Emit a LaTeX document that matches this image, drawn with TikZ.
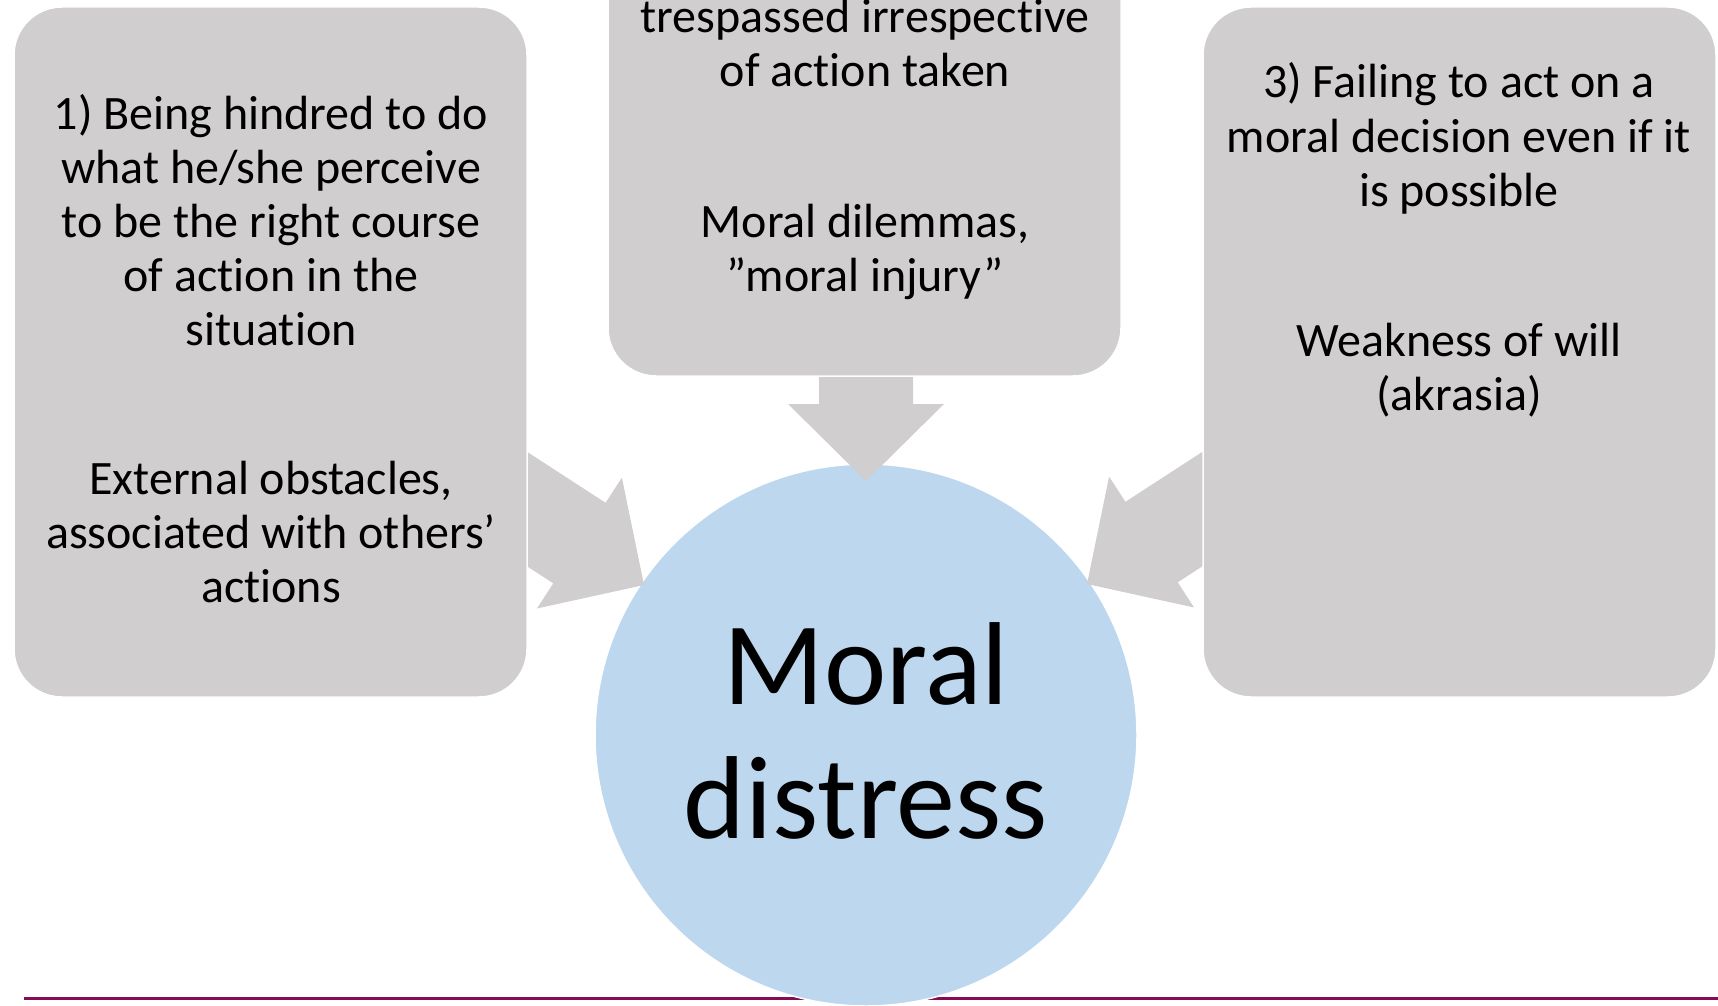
\documentclass[tikz,border=0pt]{standalone}
\usepackage{fontspec}
\setmainfont{Carlito}[Ligatures=NoCommon]
\definecolor{boxgray}{HTML}{D0CECE}
\definecolor{circblue}{HTML}{BDD7EE}
\definecolor{linepurple}{HTML}{870A55}
\begin{document}
\begin{tikzpicture}[x=1pt,y=-1pt,
  box/.style={draw=white, line width=1.5pt, fill=boxgray, rounded corners=48pt,
    minimum width=513pt, minimum height=690pt, inner sep=0pt},
  txt/.style={font=\fontsize{48}{54}\selectfont, anchor=base, inner sep=0pt},
  bigtxt/.style={font=\fontsize{118}{134}\selectfont, anchor=base, inner sep=0pt},
  arrowshape/.style={fill=boxgray}]
\useasboundingbox (0,0) rectangle (1718,1006);
\clip (0,0) rectangle (1718,1006);
% bottom rule
\coordinate (ruleL) at (24,998);
\coordinate (ruleR) at (1718,998);
\draw[linepurple, line width=3pt] (ruleL) -- (ruleR);
% central circle
\node[circle, fill=circblue, draw=white, line width=1.5pt, minimum size=542pt, inner sep=0pt] (core) at (866,735) {};
% arrows
\coordinate (tipL) at (644,585);
\coordinate (tipM) at (866,481);
\coordinate (tipR) at (1087,584);
\begin{scope}[shift={(tipL)}, rotate=-33]
  \fill[arrowshape] (0,0) -- (-77,78) -- (-77,48) -- (-260,48) -- (-260,-48) -- (-77,-48) -- (-77,-78) -- cycle;
\end{scope}
\begin{scope}[shift={(tipM)}, rotate=-90]
  \fill[arrowshape] (0,0) -- (-77,78) -- (-77,47) -- (-200,47) -- (-200,-47) -- (-77,-47) -- (-77,-78) -- cycle;
\end{scope}
\begin{scope}[shift={(tipR)}, rotate=213]
  \fill[arrowshape] (0,0) -- (-77,78) -- (-77,48) -- (-260,48) -- (-260,-48) -- (-77,-48) -- (-77,-78) -- cycle;
\end{scope}
% boxes
\node[box] (left) at (270.5,352) {};
\node[box] (mid) at (864.5,31) {};
\node[box] (right) at (1459.5,352) {};
% left texts
\foreach \t [count=\i] in {{1) Being hindred to do},{what he/she perceive},{to be the right course},{of action in the},{situation}}
  \node[txt] (la\i) at (271,{129+54*(\i-1)}) {\t};
\foreach \t [count=\i] in {{External obstacles,},{associated with others’},{actions}}
  \node[txt] (lb\i) at (271,{494+54*(\i-1)}) {\t};
% middle texts
\foreach \t [count=\i] in {{trespassed irrespective},{of action taken}}
  \node[txt] (ma\i) at (865,{33+54*(\i-1)}) {\t};
\foreach \t [count=\i] in {{Moral dilemmas,},{”moral injury”}}
  \node[txt] (mb\i) at (865,{237+54*(\i-1)}) {\t};
% right texts
\foreach \t [count=\i] in {{3) Failing to act on a},{moral decision even if it},{is possible}}
  \node[txt] (ra\i) at (1459,{98+54*(\i-1)}) {\t};
\foreach \t [count=\i] in {{Weakness of will},{(akrasia)}}
  \node[txt] (rb\i) at (1459,{356+54*(\i-1)}) {\t};
% circle text
\node[bigtxt] (mdA) at (866,704) {Moral};
\node[bigtxt] (mdB) at (866,838) {distress};
\end{tikzpicture}
\end{document}
